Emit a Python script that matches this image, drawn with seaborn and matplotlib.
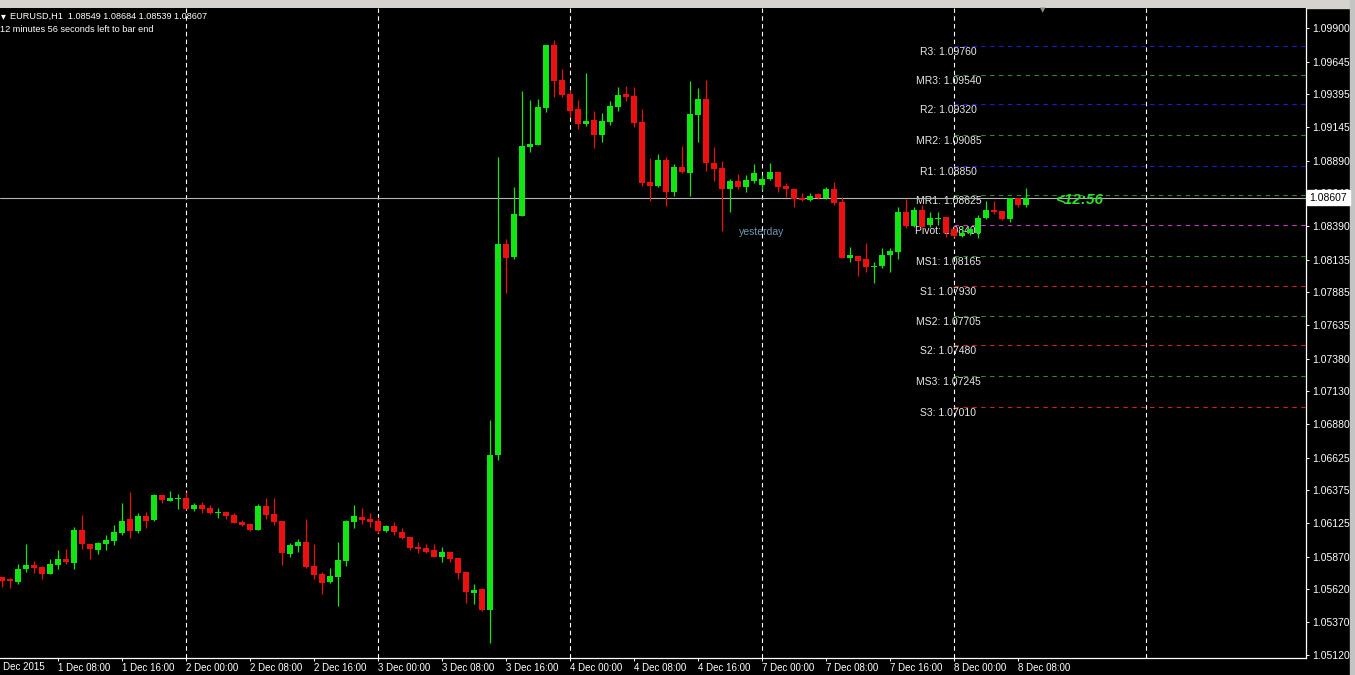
import numpy as np
import pandas as pd
import matplotlib
matplotlib.use("Agg")
import matplotlib.pyplot as plt
from matplotlib.patches import Rectangle
import seaborn as sns

# EURUSD H1 bars, 1 Dec 01:00 .. 8 Dec 09:00
open_ = [1.05715, 1.05699, 1.05677, 1.05776, 1.05807, 1.05792, 1.05738, 1.05807, 1.05852, 1.05822,
         1.06073, 1.05967, 1.05921, 1.05967, 1.05989, 1.06050, 1.06157, 1.06066, 1.06180, 1.06150,
         1.06340, 1.06294, 1.06310, 1.06317, 1.06233, 1.06264, 1.06241, 1.06203, 1.06211, 1.06188,
         1.06135, 1.06120, 1.06073, 1.06256, 1.06195, 1.06142, 1.05890, 1.05951, 1.05982, 1.05799,
         1.05738, 1.05677, 1.05715, 1.05837, 1.06135, 1.06173, 1.06157, 1.06142, 1.06066, 1.06104,
         1.06058, 1.06020, 1.05944, 1.05936, 1.05921, 1.05868, 1.05906, 1.05860, 1.05753, 1.05593,
         1.05624, 1.05464, 1.06645, 1.08254, 1.08155, 1.08467, 1.08993, 1.09009, 1.09291, 1.09771,
         1.09504, 1.09398, 1.09283, 1.09169, 1.09199, 1.09085, 1.09184, 1.09299, 1.09398, 1.09382,
         1.09184, 1.08727, 1.08696, 1.08894, 1.08650, 1.08841, 1.08795, 1.09237, 1.09359, 1.08871,
         1.08833, 1.08673, 1.08734, 1.08688, 1.08734, 1.08704, 1.08749, 1.08803, 1.08696, 1.08673,
         1.08604, 1.08589, 1.08635, 1.08604, 1.08673, 1.08574, 1.08147, 1.08162, 1.08140, 1.08079,
         1.08086, 1.08170, 1.08193, 1.08498, 1.08391, 1.08513, 1.08399, 1.08445, 1.08460, 1.08368,
         1.08315, 1.08337, 1.08337, 1.08452, 1.08513, 1.08506, 1.08445, 1.08604, 1.08549]
high = [1.05715, 1.05707, 1.05815, 1.05967, 1.05837, 1.05799, 1.05852, 1.05921, 1.05929, 1.06097,
        1.06188, 1.05967, 1.05982, 1.06035, 1.06112, 1.06279, 1.06363, 1.06203, 1.06211, 1.06348,
        1.06340, 1.06371, 1.06348, 1.06363, 1.06279, 1.06287, 1.06264, 1.06241, 1.06211, 1.06203,
        1.06150, 1.06127, 1.06272, 1.06317, 1.06317, 1.06142, 1.05974, 1.06005, 1.06157, 1.05967,
        1.05753, 1.05784, 1.05982, 1.06150, 1.06264, 1.06241, 1.06203, 1.06173, 1.06112, 1.06135,
        1.06089, 1.06020, 1.05982, 1.05967, 1.05967, 1.05944, 1.05906, 1.05860, 1.05753, 1.05662,
        1.05631, 1.06912, 1.08917, 1.08292, 1.08688, 1.09420, 1.09352, 1.09359, 1.09771, 1.09809,
        1.09588, 1.09428, 1.09352, 1.09557, 1.09267, 1.09252, 1.09344, 1.09451, 1.09458, 1.09451,
        1.09283, 1.08909, 1.08940, 1.08917, 1.08864, 1.09001, 1.09496, 1.09443, 1.09504, 1.08993,
        1.08886, 1.08749, 1.08788, 1.08780, 1.08864, 1.08780, 1.08871, 1.08803, 1.08719, 1.08673,
        1.08642, 1.08642, 1.08642, 1.08688, 1.08727, 1.08612, 1.08231, 1.08162, 1.08261, 1.08117,
        1.08223, 1.08223, 1.08536, 1.08597, 1.08536, 1.08551, 1.08498, 1.08498, 1.08460, 1.08391,
        1.08391, 1.08376, 1.08475, 1.08581, 1.08581, 1.08506, 1.08604, 1.08604, 1.08684]
low = [1.05639, 1.05631, 1.05662, 1.05753, 1.05745, 1.05699, 1.05738, 1.05776, 1.05815, 1.05776,
       1.05929, 1.05852, 1.05890, 1.05921, 1.05959, 1.06035, 1.06012, 1.06050, 1.06089, 1.06142,
       1.06279, 1.06294, 1.06233, 1.06233, 1.06218, 1.06203, 1.06195, 1.06165, 1.06157, 1.06127,
       1.06104, 1.06066, 1.06073, 1.06157, 1.06112, 1.05807, 1.05868, 1.05906, 1.05784, 1.05699,
       1.05586, 1.05669, 1.05494, 1.05799, 1.06089, 1.06120, 1.06097, 1.06050, 1.06058, 1.06035,
       1.06005, 1.05921, 1.05898, 1.05898, 1.05868, 1.05830, 1.05830, 1.05699, 1.05517, 1.05510,
       1.05456, 1.05212, 1.06607, 1.07880, 1.08140, 1.08467, 1.08955, 1.09009, 1.09260, 1.09375,
       1.09375, 1.09222, 1.09130, 1.09153, 1.08986, 1.09032, 1.09161, 1.09267, 1.09344, 1.09146,
       1.08696, 1.08581, 1.08688, 1.08543, 1.08620, 1.08795, 1.08620, 1.09032, 1.08810, 1.08734,
       1.08352, 1.08498, 1.08673, 1.08650, 1.08719, 1.08665, 1.08742, 1.08650, 1.08612, 1.08536,
       1.08581, 1.08581, 1.08597, 1.08597, 1.08551, 1.08147, 1.08117, 1.08010, 1.08041, 1.07956,
       1.08071, 1.08041, 1.08140, 1.08376, 1.08383, 1.08383, 1.08383, 1.08399, 1.08307, 1.08307,
       1.08307, 1.08322, 1.08299, 1.08445, 1.08483, 1.08437, 1.08422, 1.08536, 1.08539]
close = [1.05684, 1.05684, 1.05776, 1.05807, 1.05784, 1.05738, 1.05815, 1.05852, 1.05830, 1.06073,
         1.05967, 1.05929, 1.05974, 1.05997, 1.06058, 1.06142, 1.06066, 1.06180, 1.06142, 1.06340,
         1.06302, 1.06317, 1.06317, 1.06233, 1.06264, 1.06233, 1.06203, 1.06211, 1.06180, 1.06127,
         1.06112, 1.06073, 1.06256, 1.06188, 1.06135, 1.05898, 1.05959, 1.05982, 1.05792, 1.05730,
         1.05669, 1.05722, 1.05845, 1.06142, 1.06180, 1.06150, 1.06135, 1.06066, 1.06104, 1.06058,
         1.06012, 1.05936, 1.05929, 1.05906, 1.05868, 1.05906, 1.05852, 1.05745, 1.05601, 1.05616,
         1.05464, 1.06645, 1.08254, 1.08147, 1.08483, 1.09001, 1.09016, 1.09299, 1.09771, 1.09496,
         1.09390, 1.09267, 1.09169, 1.09191, 1.09085, 1.09191, 1.09306, 1.09390, 1.09375, 1.09176,
         1.08719, 1.08696, 1.08894, 1.08650, 1.08841, 1.08803, 1.09245, 1.09359, 1.08871, 1.08826,
         1.08673, 1.08734, 1.08688, 1.08742, 1.08795, 1.08749, 1.08803, 1.08688, 1.08673, 1.08597,
         1.08589, 1.08620, 1.08604, 1.08673, 1.08566, 1.08147, 1.08170, 1.08124, 1.08079, 1.08086,
         1.08170, 1.08200, 1.08498, 1.08391, 1.08513, 1.08383, 1.08452, 1.08452, 1.08337, 1.08315,
         1.08337, 1.08368, 1.08452, 1.08513, 1.08498, 1.08445, 1.08604, 1.08549, 1.08607]

time_labels = ["1 Dec 2015", "1 Dec 08:00", "1 Dec 16:00", "2 Dec 00:00", "2 Dec 08:00",
               "2 Dec 16:00", "3 Dec 00:00", "3 Dec 08:00", "3 Dec 16:00", "4 Dec 00:00",
               "4 Dec 08:00", "4 Dec 16:00", "7 Dec 00:00", "7 Dec 08:00", "7 Dec 16:00",
               "8 Dec 00:00", "8 Dec 08:00"]
price_ticks = [1.09900, 1.09645, 1.09395, 1.09145, 1.08890, 1.08640, 1.08390, 1.08135, 1.07885,
               1.07635, 1.07380, 1.07130, 1.06880, 1.06625, 1.06375, 1.06125, 1.05870, 1.05620,
               1.05370, 1.05120]

pivot_names = ["R3", "MR3", "R2", "MR2", "R1", "MR1", "Pivot", "MS1", "S1", "MS2", "S2", "MS3", "S3"]
pivot_values = [1.09760, 1.09540, 1.09320, 1.09085, 1.08850, 1.08625, 1.08400, 1.08165, 1.07930,
                1.07705, 1.07480, 1.07245, 1.07010]
current_price = 1.08607

df = pd.DataFrame({"open": open_, "high": high, "low": low, "close": close})
df["bar"] = np.arange(1, len(df) + 1)
df["bull"] = df["close"] >= df["open"]

sns.set_theme(style="dark", rc={"axes.facecolor": "black", "figure.facecolor": "black",
                                "axes.grid": False})
plt.rcParams["font.family"] = ["Liberation Sans", "DejaVu Sans"]

W, H = 1355, 675
fig = plt.figure(figsize=(W / 100, H / 100), dpi=100)
ax = fig.add_axes([0, 17 / H, 1306 / W, 650 / H])
ax.set_facecolor("black")

BULL, BEAR = "#12e612", "#ec1010"
colors = np.where(df["bull"], BULL, BEAR)

# wicks and bodies
ax.vlines(df["bar"], df["low"], df["high"], colors=colors, lw=0.9, zorder=4)
body_lo = np.minimum(df["open"], df["close"])
body_h = np.maximum((df["close"] - df["open"]).abs(), 0.00009)
ax.bar(df["bar"], body_h, bottom=body_lo, width=0.65, color=colors, lw=0, zorder=5)

# day separators
for d in [24, 48, 72, 96, 120, 144]:
    ax.axvline(d, color="white", lw=0.8, ls=(0, (4, 3)), zorder=2)

# current price line
ax.axhline(current_price, color="#b4b4b4", lw=0.8, zorder=3)

# pivot levels (drawn from today's open)
lvl_colors = {"R": "#1c1ccf", "M": "#2f8a2f", "P": "#c23cc2", "S": "#c82424"}
for name, val in zip(pivot_names, pivot_values):
    c = lvl_colors[name[0]]
    ax.hlines(val, 120, 170, colors=c, lw=0.8, ls=(0, (4, 4)), zorder=2)
    ax.text(119.3, val - 0.00046, f"{name}: {val:.5f}", color="#e8e8e8", fontsize=7.5,
            ha="center", va="center", zorder=1)

ax.text(96, 1.08345, "yesterday", color="#6f98ad", fontsize=7.5, ha="center", va="center",
        zorder=1)
ax.text(132.6, 1.08589, "<12:56", color="#2fe02f", fontsize=11, fontweight="bold",
        fontstyle="italic", ha="left", va="center", zorder=6)

ax.set_xlim(0.75, 164)
ax.set_ylim(1.05097, 1.10053)

# axes styling
for s in ["top", "left"]:
    ax.spines[s].set_visible(False)
for s in ["right", "bottom"]:
    ax.spines[s].set_visible(True)
    ax.spines[s].set_color("white")
    ax.spines[s].set_linewidth(0.9)

ax.yaxis.tick_right()
ax.set_yticks(price_ticks)
ax.set_yticklabels([f"{p:.5f}" for p in price_ticks])
ax.tick_params(axis="y", colors="white", labelsize=7.5, length=2.2, width=0.7, pad=2.5,
               right=True, left=False)

xt = [8 * i for i in range(len(time_labels))]
ax.set_xticks(xt[1:])
ax.set_xticklabels(time_labels[1:])
ax.tick_params(axis="x", colors="white", labelsize=7, length=2.2, width=0.7, pad=1.5,
               bottom=True)
for lab in ax.get_xticklabels():
    lab.set_ha("left")
ax.text(xt[0] + 0.1, -0.006, time_labels[0], transform=ax.get_xaxis_transform(), color="white",
        fontsize=7, ha="left", va="top", clip_on=False)

# current price tag on the price scale
ax.annotate(f"{current_price:.5f}", xy=(1, current_price), xycoords=("axes fraction", "data"),
            xytext=(2.5, 0), textcoords="offset points", color="black", fontsize=7.5,
            ha="left", va="center", annotation_clip=False, zorder=10,
            bbox=dict(boxstyle="square,pad=0.25", fc="white", ec="white"))

# window frame bits
fig.add_artist(Rectangle((0, 1 - 8 / H), 1, 8 / H, transform=fig.transFigure,
                         color="#d6d3ce", zorder=0))
fig.add_artist(Rectangle((1350 / W, 0), 5 / W, 1, transform=fig.transFigure,
                         color="#c4c4c4", zorder=0))
fig.text(1043 / W, 1 - 10 / H, "\u25BC", color="#8a8a8a", fontsize=5, ha="center", va="center",
         family="DejaVu Sans")

fig.text(1 / W, 1 - 16 / H, "\u25BE", color="white", fontsize=7, ha="left", va="center",
         family="DejaVu Sans")
fig.text(10 / W, 1 - 16 / H, "EURUSD,H1  1.08549 1.08684 1.08539 1.08607", color="white",
         fontsize=6.6, ha="left", va="center")
fig.text(0 / W, 1 - 29 / H, "12 minutes 56 seconds left to bar end", color="white",
         fontsize=6.6, ha="left", va="center")

fig.savefig("out.png", dpi=100, facecolor="black")
